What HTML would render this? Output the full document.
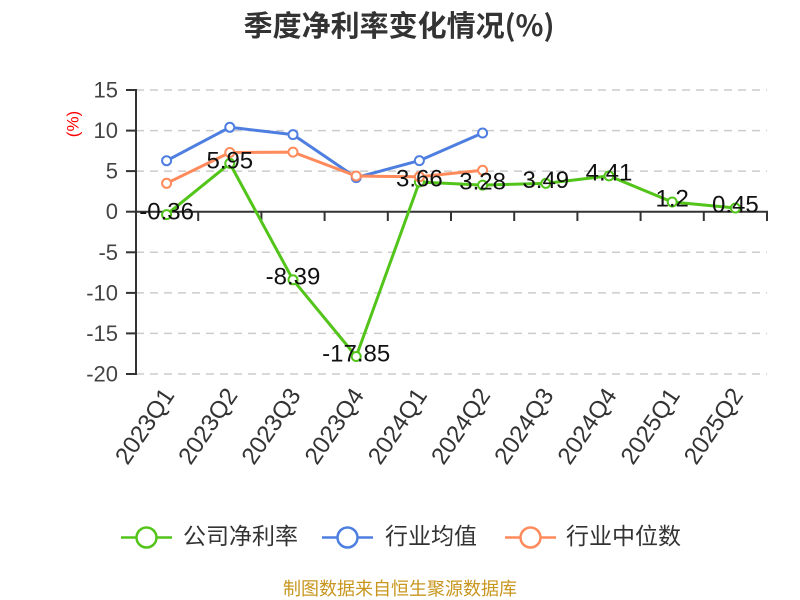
<!DOCTYPE html>
<html><head><meta charset="utf-8"><style>
html,body{margin:0;padding:0;background:#fff;}
svg{display:block;}
text{font-family:"Liberation Sans","Noto Sans CJK SC",sans-serif;}
</style></head><body>
<svg width="800" height="600" viewBox="0 0 800 600" xmlns="http://www.w3.org/2000/svg">
<rect width="800" height="600" fill="#fff"/>
<text x="399" y="36" text-anchor="middle" font-size="29" font-weight="bold" fill="#333" style="font-family:'Noto Sans CJK SC','Liberation Sans',sans-serif">季度净利率变化情况(%)</text>
<!-- grid -->
<g stroke="#cccccc" stroke-width="1.5" stroke-dasharray="8,6">
<line x1="136" y1="90" x2="767" y2="90"/>
<line x1="136" y1="130.6" x2="767" y2="130.6"/>
<line x1="136" y1="171.1" x2="767" y2="171.1"/>
<line x1="136" y1="252.3" x2="767" y2="252.3"/>
<line x1="136" y1="292.9" x2="767" y2="292.9"/>
<line x1="136" y1="333.4" x2="767" y2="333.4"/>
<line x1="136" y1="374" x2="767" y2="374"/>
</g>
<!-- y axis -->
<g stroke="#333" stroke-width="2">
<line x1="136" y1="89" x2="136" y2="375"/>
<line x1="126" y1="90" x2="136" y2="90"/>
<line x1="126" y1="130.6" x2="136" y2="130.6"/>
<line x1="126" y1="171.1" x2="136" y2="171.1"/>
<line x1="126" y1="211.7" x2="136" y2="211.7"/>
<line x1="126" y1="252.3" x2="136" y2="252.3"/>
<line x1="126" y1="292.9" x2="136" y2="292.9"/>
<line x1="126" y1="333.4" x2="136" y2="333.4"/>
<line x1="126" y1="374" x2="136" y2="374"/>
<!-- x axis -->
<line x1="135" y1="211.7" x2="768" y2="211.7"/>
<line x1="198.2" y1="211.7" x2="198.2" y2="221"/>
<line x1="261.4" y1="211.7" x2="261.4" y2="221"/>
<line x1="324.6" y1="211.7" x2="324.6" y2="221"/>
<line x1="387.8" y1="211.7" x2="387.8" y2="221"/>
<line x1="451" y1="211.7" x2="451" y2="221"/>
<line x1="514.2" y1="211.7" x2="514.2" y2="221"/>
<line x1="577.4" y1="211.7" x2="577.4" y2="221"/>
<line x1="640.6" y1="211.7" x2="640.6" y2="221"/>
<line x1="703.8" y1="211.7" x2="703.8" y2="221"/>
<line x1="767" y1="211.7" x2="767" y2="221"/>
</g>
<g font-size="22" fill="#444" text-anchor="end" dominant-baseline="central">
<text x="118" y="90">15</text>
<text x="118" y="130.6">10</text>
<text x="118" y="171.1">5</text>
<text x="118" y="211.7">0</text>
<text x="118" y="252.3">-5</text>
<text x="118" y="292.9">-10</text>
<text x="118" y="333.4">-15</text>
<text x="118" y="374">-20</text>
</g>
<text transform="translate(73,124) rotate(-90)" text-anchor="middle" dominant-baseline="central" font-size="17" fill="#ff0000">(%)</text>
<!-- x labels -->
<g font-size="24" fill="#333" text-anchor="end" dominant-baseline="central">
<text transform="translate(169,391) rotate(-56)">2023Q1</text>
<text transform="translate(232.2,391) rotate(-56)">2023Q2</text>
<text transform="translate(295.4,391) rotate(-56)">2023Q3</text>
<text transform="translate(358.6,391) rotate(-56)">2023Q4</text>
<text transform="translate(421.8,391) rotate(-56)">2024Q1</text>
<text transform="translate(485,391) rotate(-56)">2024Q2</text>
<text transform="translate(548.2,391) rotate(-56)">2024Q3</text>
<text transform="translate(611.4,391) rotate(-56)">2024Q4</text>
<text transform="translate(674.6,391) rotate(-56)">2025Q1</text>
<text transform="translate(737.8,391) rotate(-56)">2025Q2</text>
</g>
<!-- series -->
<polyline fill="none" stroke="#52c41a" stroke-width="3" stroke-linejoin="round" points="166.6,214.6 229.8,163.4 293,279.8 356.2,356.5 419.4,182 482.6,185.1 545.8,183.4 609,175.9 672.2,202 735.4,208"/>
<g fill="#fff" stroke="#52c41a" stroke-width="2">
<circle cx="166.6" cy="214.6" r="4.5"/><circle cx="229.8" cy="163.4" r="4.5"/><circle cx="293" cy="279.8" r="4.5"/><circle cx="356.2" cy="356.5" r="4.5"/><circle cx="419.4" cy="182" r="4.5"/><circle cx="482.6" cy="185.1" r="4.5"/><circle cx="545.8" cy="183.4" r="4.5"/><circle cx="609" cy="175.9" r="4.5"/><circle cx="672.2" cy="202" r="4.5"/><circle cx="735.4" cy="208" r="4.5"/>
</g>
<polyline fill="none" stroke="#4e7fe0" stroke-width="3" stroke-linejoin="round" points="166.6,160.7 229.8,127.3 293,134.6 356.2,177.6 419.4,160.6 482.6,133"/>
<g fill="#fff" stroke="#4e7fe0" stroke-width="2">
<circle cx="166.6" cy="160.7" r="4.5"/><circle cx="229.8" cy="127.3" r="4.5"/><circle cx="293" cy="134.6" r="4.5"/><circle cx="356.2" cy="177.6" r="4.5"/><circle cx="419.4" cy="160.6" r="4.5"/><circle cx="482.6" cy="133" r="4.5"/>
</g>
<polyline fill="none" stroke="#ff8a5b" stroke-width="3" stroke-linejoin="round" points="166.6,183.3 229.8,152.5 293,152.1 356.2,176 419.4,176.8 482.6,170.3"/>
<g fill="#fff" stroke="#ff8a5b" stroke-width="2">
<circle cx="166.6" cy="183.3" r="4.5"/><circle cx="229.8" cy="152.5" r="4.5"/><circle cx="293" cy="152.1" r="4.5"/><circle cx="356.2" cy="176" r="4.5"/><circle cx="419.4" cy="176.8" r="4.5"/><circle cx="482.6" cy="170.3" r="4.5"/>
</g>
<!-- labels -->
<g font-size="24" fill="#111" text-anchor="middle" dominant-baseline="central">
<text x="166.6" y="212">-0.36</text>
<text x="229.8" y="161">5.95</text>
<text x="293" y="277">-8.39</text>
<text x="356.2" y="354">-17.85</text>
<text x="419.4" y="179">3.66</text>
<text x="482.6" y="182">3.28</text>
<text x="545.8" y="180.5">3.49</text>
<text x="609" y="173">4.41</text>
<text x="672.2" y="199">1.2</text>
<text x="735.4" y="205">0.45</text>
</g>
<!-- legend -->
<g stroke-width="2.5" fill="#fff">
<line x1="121" y1="537.5" x2="172" y2="537.5" stroke="#52c41a"/>
<circle cx="146.5" cy="537.5" r="10" stroke="#52c41a"/>
<line x1="322" y1="537.5" x2="373" y2="537.5" stroke="#4e7fe0"/>
<circle cx="347.5" cy="537.5" r="10" stroke="#4e7fe0"/>
<line x1="505" y1="537.5" x2="556" y2="537.5" stroke="#ff8a5b"/>
<circle cx="530.5" cy="537.5" r="10" stroke="#ff8a5b"/>
</g>
<g font-size="23" fill="#333" dominant-baseline="central" style="font-family:'Noto Sans CJK SC','Liberation Sans',sans-serif">
<text x="183" y="536">公司净利率</text>
<text x="385" y="536">行业均值</text>
<text x="566" y="536">行业中位数</text>
</g>
<text x="400" y="588" text-anchor="middle" dominant-baseline="central" font-size="18" fill="#c8961e" style="font-family:'Noto Sans CJK SC','Liberation Sans',sans-serif">制图数据来自恒生聚源数据库</text>
</svg>
</body></html>
